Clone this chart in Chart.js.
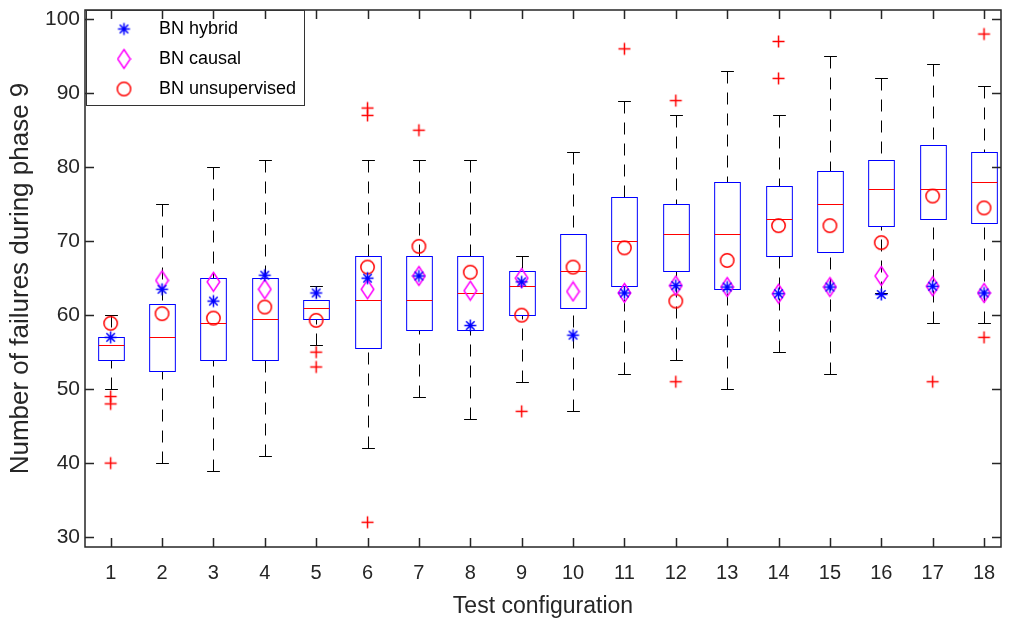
<!DOCTYPE html>
<html>
<head>
<meta charset="utf-8">
<script src="https://cdn.jsdelivr.net/npm/chart.js@4.4.1/dist/chart.umd.min.js"></script>
<style>
  html, body { margin: 0; padding: 0; background: #fff; }
</style>
</head>
<body>
<canvas id="boxChart" width="1009" height="623"></canvas>
<script>
// test configurations on the x axis
var configs = [1, 2, 3, 4, 5, 6, 7, 8, 9, 10, 11, 12, 13, 14, 15, 16, 17, 18];

// box plot statistics per configuration
var whiskerLow  = [50, 40, 39, 41, 56, 42, 49, 46, 51, 47, 52, 54, 50, 55, 52, 63, 59, 59];
var q1          = [54, 52.5, 54, 54, 59.5, 55.5, 58, 58, 60, 61, 64, 66, 63.5, 68, 68.5, 72, 73, 72.5];
var median      = [56, 57, 59, 59.5, 61, 62, 62, 63, 64, 66, 70, 71, 71, 73, 75, 77, 77, 78];
var q3          = [57, 61.5, 65, 65, 62, 68, 68, 68, 66, 71, 76, 75, 78, 77.5, 79.5, 81, 83, 82];
var whiskerHigh = [60, 75, 80, 81, 64, 81, 81, 81, 68, 82, 89, 87, 93, 87, 95, 92, 94, 91];
var outliers = [
  [49, 48, 40], [], [], [], [55, 53], [88, 87, 32], [85], [], [47],
  [], [96], [89, 51], [], [97, 92], [], [], [51], [98, 57]
];

// BN model results
var bnHybrid       = [57.0, 63.5, 61.9, 65.4, 63.0, 65.0, 65.3, 58.6, 64.5, 57.3, 63.0, 64.0, 63.8, 62.9, 63.8, 62.8, 63.9, 63.0];
var bnCausal       = [null, 64.7, 64.5, 63.5, null, 63.5, 65.3, 63.3, 65.0, 63.2, 63.0, 64.0, 63.8, 62.9, 63.8, 65.3, 63.9, 63.0];
var bnUnsupervised = [58.9, 60.2, 59.6, 61.1, 59.3, 66.5, 69.3, 65.8, 60.0, 66.5, 69.1, 61.9, 67.4, 72.1, 72.1, 69.8, 76.1, 74.5];

var yTicks = [30, 40, 50, 60, 70, 80, 90, 100];

var FONT = "'Liberation Sans', Arial, sans-serif";
var AXIS_COLOR = '#262626';

// marker images (matlab style markers)
function makeMarker(w, h, draw) {
  var c = document.createElement('canvas');
  c.width = w; c.height = h;
  var g = c.getContext('2d');
  g.lineWidth = 1.5;
  draw(g, w / 2, h / 2);
  return c;
}
var starMarker = makeMarker(15, 15, function (g, cx, cy) {
  g.strokeStyle = '#0000ff';
  g.beginPath();
  for (var k = 0; k < 4; k++) {
    var a = k * Math.PI / 4;
    g.moveTo(cx - 6 * Math.cos(a), cy - 6 * Math.sin(a));
    g.lineTo(cx + 6 * Math.cos(a), cy + 6 * Math.sin(a));
  }
  g.stroke();
});
var diamondMarker = makeMarker(15, 22, function (g, cx, cy) {
  g.strokeStyle = '#ff00ff';
  g.beginPath();
  g.moveTo(cx, 1.5); g.lineTo(cx + 6.3, cy); g.lineTo(cx, 20.5); g.lineTo(cx - 6.3, cy);
  g.closePath();
  g.stroke();
});
var circleMarker = makeMarker(17, 17, function (g, cx, cy) {
  g.strokeStyle = '#ff0000';
  g.beginPath();
  g.arc(cx, cy, 6.7, 0, Math.PI * 2);
  g.stroke();
});
var plusMarker = makeMarker(15, 15, function (g, cx, cy) {
  g.strokeStyle = '#ff0000';
  g.beginPath();
  g.moveTo(cx, 1.5); g.lineTo(cx, 13.5);
  g.moveTo(1.5, cy); g.lineTo(13.5, cy);
  g.stroke();
});

function toPoints(values) {
  var pts = [];
  values.forEach(function (v, i) {
    if (v !== null) pts.push({x: configs[i], y: v});
  });
  return pts;
}
var outlierPoints = [];
outliers.forEach(function (list, i) {
  list.forEach(function (v) { outlierPoints.push({x: configs[i], y: v}); });
});

// boxes, whiskers, caps and medians drawn with the chart scales
var boxPlugin = {
  id: 'boxPlot',
  afterLayout: function (chart) {
    // keep the legend in the upper left corner of the plot area
    var lg = chart.legend;
    lg.left = chart.chartArea.left + 1;
    lg.top = chart.chartArea.top - 2;
  },
  beforeDatasetsDraw: function (chart) {
    var ctx = chart.ctx, xs = chart.scales.x, ys = chart.scales.y;
    ctx.save();
    configs.forEach(function (c, i) {
      var xc = Math.round(xs.getPixelForValue(c)) + 0.5;
      var half = xs.getPixelForValue(c + 0.25) - xs.getPixelForValue(c);
      var cap = half / 2;
      var yLo = Math.round(ys.getPixelForValue(whiskerLow[i])) + 0.5;
      var yQ1 = Math.round(ys.getPixelForValue(q1[i])) + 0.5;
      var yMed = Math.round(ys.getPixelForValue(median[i])) + 0.5;
      var yQ3 = Math.round(ys.getPixelForValue(q3[i])) + 0.5;
      var yHi = Math.round(ys.getPixelForValue(whiskerHigh[i])) + 0.5;

      // dashed whiskers, starting from the caps
      ctx.strokeStyle = '#000';
      ctx.lineWidth = 1;
      ctx.setLineDash([12, 9]);
      ctx.beginPath(); ctx.moveTo(xc, yHi); ctx.lineTo(xc, yQ3); ctx.stroke();
      ctx.beginPath(); ctx.moveTo(xc, yLo); ctx.lineTo(xc, yQ1); ctx.stroke();
      ctx.setLineDash([]);

      // caps
      ctx.beginPath();
      ctx.moveTo(xc - cap, yHi); ctx.lineTo(xc + cap, yHi);
      ctx.moveTo(xc - cap, yLo); ctx.lineTo(xc + cap, yLo);
      ctx.stroke();

      // box
      ctx.strokeStyle = '#0000ff';
      ctx.strokeRect(xc - half, yQ3, 2 * half, yQ1 - yQ3);

      // median
      ctx.strokeStyle = '#ff0000';
      ctx.beginPath(); ctx.moveTo(xc - half, yMed); ctx.lineTo(xc + half, yMed); ctx.stroke();
    });
    ctx.restore();
  },
  afterDraw: function (chart) {
    var ctx = chart.ctx, a = chart.chartArea, xs = chart.scales.x, ys = chart.scales.y;
    var tick = 9;
    ctx.save();
    ctx.strokeStyle = AXIS_COLOR;
    ctx.lineWidth = 1.5;
    ctx.strokeRect(a.left, a.top, a.right - a.left, a.bottom - a.top);
    ctx.beginPath();
    configs.forEach(function (c) {
      var px = Math.round(xs.getPixelForValue(c)) + 0.5;
      ctx.moveTo(px, a.bottom); ctx.lineTo(px, a.bottom - tick);
      ctx.moveTo(px, a.top); ctx.lineTo(px, a.top + tick);
    });
    yTicks.forEach(function (v) {
      var py = Math.round(ys.getPixelForValue(v)) + 0.5;
      ctx.moveTo(a.left, py); ctx.lineTo(a.left + tick, py);
      ctx.moveTo(a.right, py); ctx.lineTo(a.right - tick, py);
    });
    ctx.stroke();

    // legend frame
    var lg = chart.legend;
    var h = lg.columnSizes[0].height + 7;
    ctx.strokeStyle = '#333';
    ctx.lineWidth = 1;
    ctx.strokeRect(Math.round(lg.left) + 0.5, a.top + 0.5, Math.round(lg.width) - 2, h + (lg.top - a.top));
    ctx.restore();
  }
};

var ctx = document.getElementById('boxChart').getContext('2d');

new Chart(ctx, {
  type: 'scatter',
  data: {
    datasets: [{
      label: 'BN hybrid',
      data: toPoints(bnHybrid),
      pointStyle: starMarker,
      pointRadius: 7,
      borderColor: '#0000ff',
      backgroundColor: '#0000ff'
    }, {
      label: 'BN causal',
      data: toPoints(bnCausal),
      pointStyle: diamondMarker,
      pointRadius: 7,
      borderColor: '#ff00ff',
      backgroundColor: '#ff00ff'
    }, {
      label: 'BN unsupervised',
      data: toPoints(bnUnsupervised),
      pointStyle: circleMarker,
      pointRadius: 7,
      borderColor: '#ff0000',
      backgroundColor: '#ff0000'
    }, {
      label: 'Outliers',
      data: outlierPoints,
      pointStyle: plusMarker,
      pointRadius: 7,
      borderColor: '#ff0000',
      backgroundColor: '#ff0000'
    }]
  },
  options: {
    responsive: false,
    animation: false,
    layout: { padding: { top: 10, right: 1, bottom: 0, left: 0 } },
    scales: {
      x: {
        type: 'linear',
        min: 0.5,
        max: 18.33,
        grid: { display: false, drawTicks: false },
        border: { display: false },
        afterBuildTicks: function (scale) {
          scale.ticks = configs.map(function (v) { return {value: v}; });
        },
        afterFit: function (scale) {
          scale.height = 76;
          scale.paddingLeft = 0;
          scale.paddingRight = 0;
        },
        ticks: {
          padding: 14,
          maxRotation: 0,
          autoSkip: false,
          color: AXIS_COLOR,
          font: { family: FONT, size: 20 }
        },
        title: {
          display: true,
          text: 'Test configuration',
          color: AXIS_COLOR,
          padding: { top: 0, bottom: 3 },
          font: { family: FONT, size: 23 }
        }
      },
      y: {
        type: 'linear',
        min: 28.66,
        max: 101.25,
        grid: { display: false, drawTicks: false },
        border: { display: false },
        afterBuildTicks: function (scale) {
          scale.ticks = yTicks.map(function (v) { return {value: v}; });
        },
        afterFit: function (scale) {
          scale.width = 85;
          scale.paddingTop = 0;
          scale.paddingBottom = 0;
        },
        ticks: {
          padding: 5,
          color: AXIS_COLOR,
          font: { family: FONT, size: 21 }
        },
        title: {
          display: true,
          text: 'Number of failures during phase 9',
          color: AXIS_COLOR,
          padding: { top: 5, bottom: 0 },
          font: { family: FONT, size: 26 }
        }
      }
    },
    plugins: {
      tooltip: { enabled: false },
      legend: {
        position: 'chartArea',
        align: 'start',
        labels: {
          usePointStyle: true,
          pointStyleWidth: 52,
          padding: 12,
          color: '#000',
          font: { family: FONT, size: 18 },
          filter: function (item) { return item.datasetIndex < 3; }
        }
      }
    }
  },
  plugins: [boxPlugin]
});
</script>
</body>
</html>
